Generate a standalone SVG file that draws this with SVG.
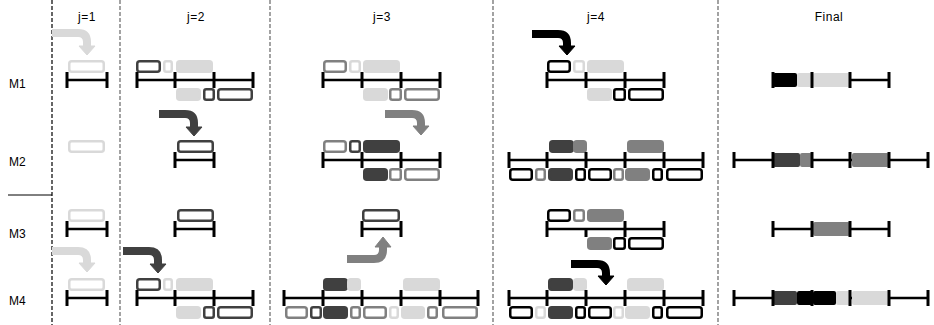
<svg xmlns="http://www.w3.org/2000/svg" width="934" height="325" viewBox="0 0 934 325">
<style>
text{font-family:"Liberation Sans",Arial,sans-serif;font-size:12px;fill:#000}
.hd{text-anchor:middle;letter-spacing:0.5px}
.dash{stroke:#666;stroke-width:1.2;stroke-dasharray:4 2;fill:none}
.ln{stroke:#000;stroke-width:2.5;fill:none}
.tk{stroke:#000;stroke-width:3}
rect{stroke-width:2.5}
.oL{fill:#fff;stroke:#d9d9d9}
.oG{fill:#fff;stroke:#808080}
.oD{fill:#fff;stroke:#404040}
.oK{fill:#fff;stroke:#000}
.fL{fill:#d9d9d9;stroke:#d9d9d9}
.fG{fill:#808080;stroke:#808080}
.fD{fill:#404040;stroke:#404040}
.fK{fill:#000;stroke:#000}
.fin{stroke:none}
.aL{stroke:#d9d9d9;fill:#d9d9d9}
.aG{stroke:#808080;fill:#808080}
.aD{stroke:#404040;fill:#404040}
.aK{stroke:#000;fill:#000}
.ab{fill:none;stroke-width:8}
</style>
<defs/>
<g id="frame">
<line class="dash" x1="52" y1="0" x2="52" y2="325" style="stroke:#000"/>
<line class="dash" x1="120" y1="0" x2="120" y2="325"/>
<line class="dash" x1="270" y1="0" x2="270" y2="325"/>
<line class="dash" x1="493" y1="0" x2="493" y2="325"/>
<line class="dash" x1="718" y1="0" x2="718" y2="325"/>
<line x1="8" y1="195" x2="52" y2="195" stroke="#000" stroke-width="1"/>
<text class="hd" x="87" y="21">j=1</text>
<text class="hd" x="196" y="21">j=2</text>
<text class="hd" x="382" y="21">j=3</text>
<text class="hd" x="596" y="21">j=4</text>
<text class="hd" x="829" y="21">Final</text>
<text x="9" y="88">M1</text>
<text x="9" y="166">M2</text>
<text x="9" y="238">M3</text>
<text x="9" y="305">M4</text>
</g>

<!-- j=1 -->
<g id="j1-M1">
<rect class="oL" x="69.25" y="61.25" width="34.5" height="10.5" rx="2.5"/>
<line class="ln" x1="67" y1="80" x2="107" y2="80"/>
<line class="tk" x1="67" y1="72" x2="67" y2="88"/><line class="tk" x1="107" y1="72" x2="107" y2="88"/>
</g>
<g id="j1-M2">
<rect class="oL" x="69.25" y="141.25" width="34.5" height="10.5" rx="2.5"/>
</g>
<g id="j1-M3">
<rect class="oL" x="69.25" y="210.25" width="34.5" height="10.5" rx="2.5"/>
<line class="ln" x1="67" y1="229" x2="107" y2="229"/>
<line class="tk" x1="67" y1="221" x2="67" y2="237"/><line class="tk" x1="107" y1="221" x2="107" y2="237"/>
</g>
<g id="j1-M4">
<rect class="oL" x="69.25" y="279.25" width="34.5" height="10.5" rx="2.5"/>
<line class="ln" x1="67" y1="298" x2="107" y2="298"/>
<line class="tk" x1="67" y1="290" x2="67" y2="306"/><line class="tk" x1="107" y1="290" x2="107" y2="306"/>
</g>

<!-- j=2 -->
<g id="j2-M1">
<rect class="oD" x="137.25" y="61.25" width="22.5" height="10.5" rx="2.5"/>
<rect class="oL" x="164.25" y="61.25" width="7.5" height="10.5" rx="2"/>
<rect class="fL" x="177.25" y="61.25" width="34.5" height="10.5" rx="2.5"/>
<rect class="fL" x="177.25" y="89.25" width="22.5" height="10.5" rx="2.5"/>
<rect class="oD" x="204.25" y="89.25" width="9.5" height="10.5" rx="2"/>
<rect class="oD" x="218.25" y="89.25" width="33.5" height="10.5" rx="2.5"/>
<line class="ln" x1="137" y1="80" x2="253" y2="80"/>
<line class="tk" x1="137" y1="72" x2="137" y2="88"/><line class="tk" x1="175" y1="72" x2="175" y2="88"/><line class="tk" x1="214" y1="72" x2="214" y2="88"/><line class="tk" x1="253" y1="72" x2="253" y2="88"/>
</g>
<g id="j2-M2">
<rect class="oD" x="178.25" y="141.25" width="34.5" height="10.5" rx="2.5"/>
<line class="ln" x1="175" y1="160" x2="214" y2="160"/>
<line class="tk" x1="175" y1="152" x2="175" y2="168"/><line class="tk" x1="214" y1="152" x2="214" y2="168"/>
</g>
<g id="j2-M3">
<rect class="oD" x="178.25" y="210.25" width="34.5" height="10.5" rx="2.5"/>
<line class="ln" x1="175" y1="229" x2="214" y2="229"/>
<line class="tk" x1="175" y1="221" x2="175" y2="237"/><line class="tk" x1="214" y1="221" x2="214" y2="237"/>
</g>
<g id="j2-M4">
<rect class="oD" x="137.25" y="279.25" width="22.5" height="10.5" rx="2.5"/>
<rect class="oL" x="164.25" y="279.25" width="7.5" height="10.5" rx="2"/>
<rect class="fL" x="177.25" y="279.25" width="34.5" height="10.5" rx="2.5"/>
<rect class="fL" x="177.25" y="307.25" width="22.5" height="10.5" rx="2.5"/>
<rect class="oD" x="204.25" y="307.25" width="9.5" height="10.5" rx="2"/>
<rect class="oD" x="218.25" y="307.25" width="33.5" height="10.5" rx="2.5"/>
<line class="ln" x1="137" y1="298" x2="253" y2="298"/>
<line class="tk" x1="137" y1="290" x2="137" y2="306"/><line class="tk" x1="175" y1="290" x2="175" y2="306"/><line class="tk" x1="214" y1="290" x2="214" y2="306"/><line class="tk" x1="253" y1="290" x2="253" y2="306"/>
</g>

<!-- j=3 -->
<g id="j3-M1">
<rect class="oG" x="324.25" y="61.25" width="21.5" height="10.5" rx="2.5"/>
<rect class="oL" x="350.25" y="61.25" width="9.5" height="10.5" rx="2"/>
<rect class="fL" x="364.25" y="61.25" width="34.5" height="10.5" rx="2.5"/>
<rect class="fL" x="364.25" y="89.25" width="22.5" height="10.5" rx="2.5"/>
<rect class="oG" x="390.25" y="89.25" width="10.5" height="10.5" rx="2"/>
<rect class="oG" x="405.25" y="89.25" width="33.5" height="10.5" rx="2.5"/>
<line class="ln" x1="323" y1="80" x2="440" y2="80"/>
<line class="tk" x1="323" y1="72" x2="323" y2="88"/><line class="tk" x1="362" y1="72" x2="362" y2="88"/><line class="tk" x1="401" y1="72" x2="401" y2="88"/><line class="tk" x1="440" y1="72" x2="440" y2="88"/>
</g>
<g id="j3-M2">
<rect class="oG" x="324.25" y="141.25" width="21.5" height="10.5" rx="2.5"/>
<rect class="oD" x="350.25" y="141.25" width="9.5" height="10.5" rx="2"/>
<rect class="fD" x="364.25" y="141.25" width="34.5" height="10.5" rx="2.5"/>
<rect class="fD" x="364.25" y="169.25" width="22.5" height="10.5" rx="2.5"/>
<rect class="oG" x="390.25" y="169.25" width="10.5" height="10.5" rx="2"/>
<rect class="oG" x="405.25" y="169.25" width="33.5" height="10.5" rx="2.5"/>
<line class="ln" x1="323" y1="160" x2="440" y2="160"/>
<line class="tk" x1="323" y1="152" x2="323" y2="168"/><line class="tk" x1="362" y1="152" x2="362" y2="168"/><line class="tk" x1="401" y1="152" x2="401" y2="168"/><line class="tk" x1="440" y1="152" x2="440" y2="168"/>
</g>
<g id="j3-M3">
<rect class="oD" x="363.25" y="210.25" width="35.5" height="10.5" rx="2.5"/>
<line class="ln" x1="362" y1="229" x2="401" y2="229"/>
<line class="tk" x1="362" y1="221" x2="362" y2="237"/><line class="tk" x1="401" y1="221" x2="401" y2="237"/>
</g>
<g id="j3-M4">
<rect class="fD" x="324.25" y="279.25" width="22.5" height="10.5" rx="2.5"/>
<rect class="fL" x="348.25" y="279.25" width="11.5" height="10.5" rx="2.5"/>
<rect class="fL" x="404.25" y="279.25" width="34.5" height="10.5" rx="2.5"/>
<rect class="oG" x="286.25" y="307.25" width="20.5" height="10.5" rx="2.5"/>
<rect class="oD" x="311.25" y="307.25" width="9.5" height="10.5" rx="2"/>
<rect class="fD" x="324.25" y="307.25" width="22.5" height="10.5" rx="2.5"/>
<rect class="oG" x="351.25" y="307.25" width="8.5" height="10.5" rx="2"/>
<rect class="oG" x="364.25" y="307.25" width="21.5" height="10.5" rx="2.5"/>
<rect class="oL" x="390.25" y="307.25" width="7.5" height="10.5" rx="2"/>
<rect class="fL" x="402.25" y="307.25" width="21.5" height="10.5" rx="2.5"/>
<rect class="oG" x="428.25" y="307.25" width="8.5" height="10.5" rx="2"/>
<rect class="oG" x="443.25" y="307.25" width="33.5" height="10.5" rx="2.5"/>
<line class="ln" x1="284" y1="298" x2="478" y2="298"/>
<line class="tk" x1="284" y1="290" x2="284" y2="306"/><line class="tk" x1="323" y1="290" x2="323" y2="306"/><line class="tk" x1="362" y1="290" x2="362" y2="306"/><line class="tk" x1="401" y1="290" x2="401" y2="306"/><line class="tk" x1="440" y1="290" x2="440" y2="306"/><line class="tk" x1="478" y1="290" x2="478" y2="306"/>
</g>

<!-- j=4 -->
<g id="j4-M1">
<rect class="oK" x="548.25" y="61.25" width="21.5" height="10.5" rx="2.5"/>
<rect class="oL" x="574.25" y="61.25" width="9.5" height="10.5" rx="2"/>
<rect class="fL" x="588.25" y="61.25" width="34.5" height="10.5" rx="2.5"/>
<rect class="fL" x="588.25" y="89.25" width="22.5" height="10.5" rx="2.5"/>
<rect class="oK" x="614.25" y="89.25" width="10.5" height="10.5" rx="2"/>
<rect class="oK" x="629.25" y="89.25" width="33.5" height="10.5" rx="2.5"/>
<line class="ln" x1="547" y1="80" x2="664" y2="80"/>
<line class="tk" x1="547" y1="72" x2="547" y2="88"/><line class="tk" x1="586" y1="72" x2="586" y2="88"/><line class="tk" x1="625" y1="72" x2="625" y2="88"/><line class="tk" x1="664" y1="72" x2="664" y2="88"/>
</g>
<g id="j4-M2">
<rect class="fD" x="550.25" y="141.25" width="22.5" height="10.5" rx="2.5"/>
<rect class="fG" x="574.25" y="141.25" width="11.5" height="10.5" rx="2.5"/>
<rect class="fG" x="628.25" y="141.25" width="34.5" height="10.5" rx="2.5"/>
<rect class="oK" x="510.25" y="169.25" width="21.5" height="10.5" rx="2.5"/>
<rect class="oG" x="536.25" y="169.25" width="8.5" height="10.5" rx="2"/>
<rect class="fD" x="549.25" y="169.25" width="22.5" height="10.5" rx="2.5"/>
<rect class="oK" x="576.25" y="169.25" width="8.5" height="10.5" rx="2"/>
<rect class="oK" x="589.25" y="169.25" width="21.5" height="10.5" rx="2.5"/>
<rect class="oG" x="614.25" y="169.25" width="8.5" height="10.5" rx="2"/>
<rect class="fG" x="626.25" y="169.25" width="22.5" height="10.5" rx="2.5"/>
<rect class="oK" x="653.25" y="169.25" width="8.5" height="10.5" rx="2"/>
<rect class="oK" x="667.25" y="169.25" width="34.5" height="10.5" rx="2.5"/>
<line class="ln" x1="509" y1="160" x2="703" y2="160"/>
<line class="tk" x1="509" y1="152" x2="509" y2="168"/><line class="tk" x1="547" y1="152" x2="547" y2="168"/><line class="tk" x1="586" y1="152" x2="586" y2="168"/><line class="tk" x1="625" y1="152" x2="625" y2="168"/><line class="tk" x1="664" y1="152" x2="664" y2="168"/><line class="tk" x1="703" y1="152" x2="703" y2="168"/>
</g>
<g id="j4-M3">
<rect class="oK" x="548.25" y="210.25" width="21.5" height="10.5" rx="2.5"/>
<rect class="oG" x="574.25" y="210.25" width="9.5" height="10.5" rx="2"/>
<rect class="fG" x="588.25" y="210.25" width="34.5" height="10.5" rx="2.5"/>
<rect class="fG" x="588.25" y="238.25" width="22.5" height="10.5" rx="2.5"/>
<rect class="oK" x="614.25" y="238.25" width="10.5" height="10.5" rx="2"/>
<rect class="oK" x="629.25" y="238.25" width="33.5" height="10.5" rx="2.5"/>
<line class="ln" x1="547" y1="229" x2="664" y2="229"/>
<line class="tk" x1="547" y1="221" x2="547" y2="237"/><line class="tk" x1="586" y1="229" x2="586" y2="237"/><line class="tk" x1="625" y1="221" x2="625" y2="237"/><line class="tk" x1="664" y1="221" x2="664" y2="237"/>
</g>
<g id="j4-M4">
<rect class="fD" x="549.25" y="279.25" width="22.5" height="10.5" rx="2.5"/>
<rect class="fL" x="574.25" y="279.25" width="11.5" height="10.5" rx="2.5"/>
<rect class="fL" x="628.25" y="279.25" width="34.5" height="10.5" rx="2.5"/>
<rect class="oK" x="510.25" y="307.25" width="21.5" height="10.5" rx="2.5"/>
<rect class="oL" x="536.25" y="307.25" width="8.5" height="10.5" rx="2"/>
<rect class="fD" x="549.25" y="307.25" width="22.5" height="10.5" rx="2.5"/>
<rect class="oK" x="576.25" y="307.25" width="8.5" height="10.5" rx="2"/>
<rect class="oK" x="589.25" y="307.25" width="21.5" height="10.5" rx="2.5"/>
<rect class="oL" x="614.25" y="307.25" width="8.5" height="10.5" rx="2"/>
<rect class="fL" x="626.25" y="307.25" width="22.5" height="10.5" rx="2.5"/>
<rect class="oK" x="653.25" y="307.25" width="8.5" height="10.5" rx="2"/>
<rect class="oK" x="667.25" y="307.25" width="34.5" height="10.5" rx="2.5"/>
<line class="ln" x1="509" y1="298" x2="703" y2="298"/>
<line class="tk" x1="509" y1="290" x2="509" y2="306"/><line class="tk" x1="547" y1="290" x2="547" y2="306"/><line class="tk" x1="586" y1="290" x2="586" y2="306"/><line class="tk" x1="625" y1="290" x2="625" y2="306"/><line class="tk" x1="664" y1="290" x2="664" y2="306"/><line class="tk" x1="703" y1="290" x2="703" y2="306"/>
</g>

<!-- Final -->
<g id="final-M1">
<line class="ln" x1="773" y1="80" x2="889" y2="80"/>
<rect class="fK fin" x="773" y="73" width="24" height="14" rx="2"/>
<rect class="fL fin" x="797" y="73" width="15" height="14" rx="2"/>
<rect class="fL fin" x="813" y="73" width="37" height="14" rx="2"/>
<line class="tk" x1="773" y1="72" x2="773" y2="88"/><line class="tk" x1="812" y1="72" x2="812" y2="88"/><line class="tk" x1="850" y1="72" x2="850" y2="88"/><line class="tk" x1="889" y1="72" x2="889" y2="88"/>
</g>
<g id="final-M2">
<line class="ln" x1="734" y1="160" x2="928" y2="160"/>
<rect class="fD fin" x="773" y="153" width="27" height="14" rx="2"/>
<rect class="fG fin" x="800" y="153" width="12" height="14" rx="2"/>
<rect class="fG fin" x="852" y="153" width="37" height="14" rx="2"/>
<line class="tk" x1="734" y1="152" x2="734" y2="168"/><line class="tk" x1="773" y1="152" x2="773" y2="168"/><line class="tk" x1="812" y1="152" x2="812" y2="168"/><line class="tk" x1="850" y1="152" x2="850" y2="168"/><line class="tk" x1="889" y1="152" x2="889" y2="168"/><line class="tk" x1="928" y1="152" x2="928" y2="168"/>
</g>
<g id="final-M3">
<line class="ln" x1="773" y1="229" x2="889" y2="229"/>
<rect class="fG fin" x="813" y="222" width="37" height="14" rx="2"/>
<line class="tk" x1="773" y1="221" x2="773" y2="237"/><line class="tk" x1="812" y1="221" x2="812" y2="237"/><line class="tk" x1="850" y1="221" x2="850" y2="237"/><line class="tk" x1="889" y1="221" x2="889" y2="237"/>
</g>
<g id="final-M4">
<line class="ln" x1="734" y1="298" x2="928" y2="298"/>
<rect class="fD fin" x="773" y="291" width="24" height="14" rx="2"/>
<rect class="fK fin" x="797" y="291" width="16" height="14" rx="2"/>
<rect class="fK fin" x="813" y="291" width="23" height="14" rx="2"/>
<rect class="fL fin" x="836" y="291" width="14" height="14" rx="2"/>
<rect class="fL fin" x="852" y="291" width="37" height="14" rx="2"/>
<line class="tk" x1="734" y1="290" x2="734" y2="306"/><line class="tk" x1="773" y1="290" x2="773" y2="306"/><line class="tk" x1="812" y1="290" x2="812" y2="306"/><line class="tk" x1="850" y1="290" x2="850" y2="306"/><line class="tk" x1="889" y1="290" x2="889" y2="306"/><line class="tk" x1="928" y1="290" x2="928" y2="306"/>
</g>

<g id="connectors">
<g class="aL"><path class="ab" d="M52 33 H78 Q87 33 87 42 V47"/><polygon points="79,46 95,46 87,55"/></g>
<g class="aL"><path class="ab" d="M52 251 H78 Q87 251 87 260 V264"/><polygon points="79,263 95,263 87,272"/></g>
<g class="aD"><path class="ab" d="M159 114 H185 Q194 114 194 123 V128"/><polygon points="186,127 202,127 194,136"/></g>
<g class="aD"><path class="ab" d="M123 251 H149 Q158 251 158 260 V265"/><polygon points="150,264 166,264 158,273"/></g>
<g class="aG"><path class="ab" d="M385 114 H412 Q421 114 421 123 V127"/><polygon points="413,126 429,126 421,135"/></g>
<g class="aG"><path class="ab" d="M347 259 H374 Q383 259 383 250 V246"/><polygon points="375,247 391,247 383,237"/></g>
<g class="aK"><path class="ab" d="M532 34 H558 Q567 34 567 43 V47"/><polygon points="559,46 575,46 567,55"/></g>
<g class="aK"><path class="ab" d="M571 264 H597 Q606 264 606 273 V277"/><polygon points="598,276 614,276 606,285"/></g>
</g>
</svg>
